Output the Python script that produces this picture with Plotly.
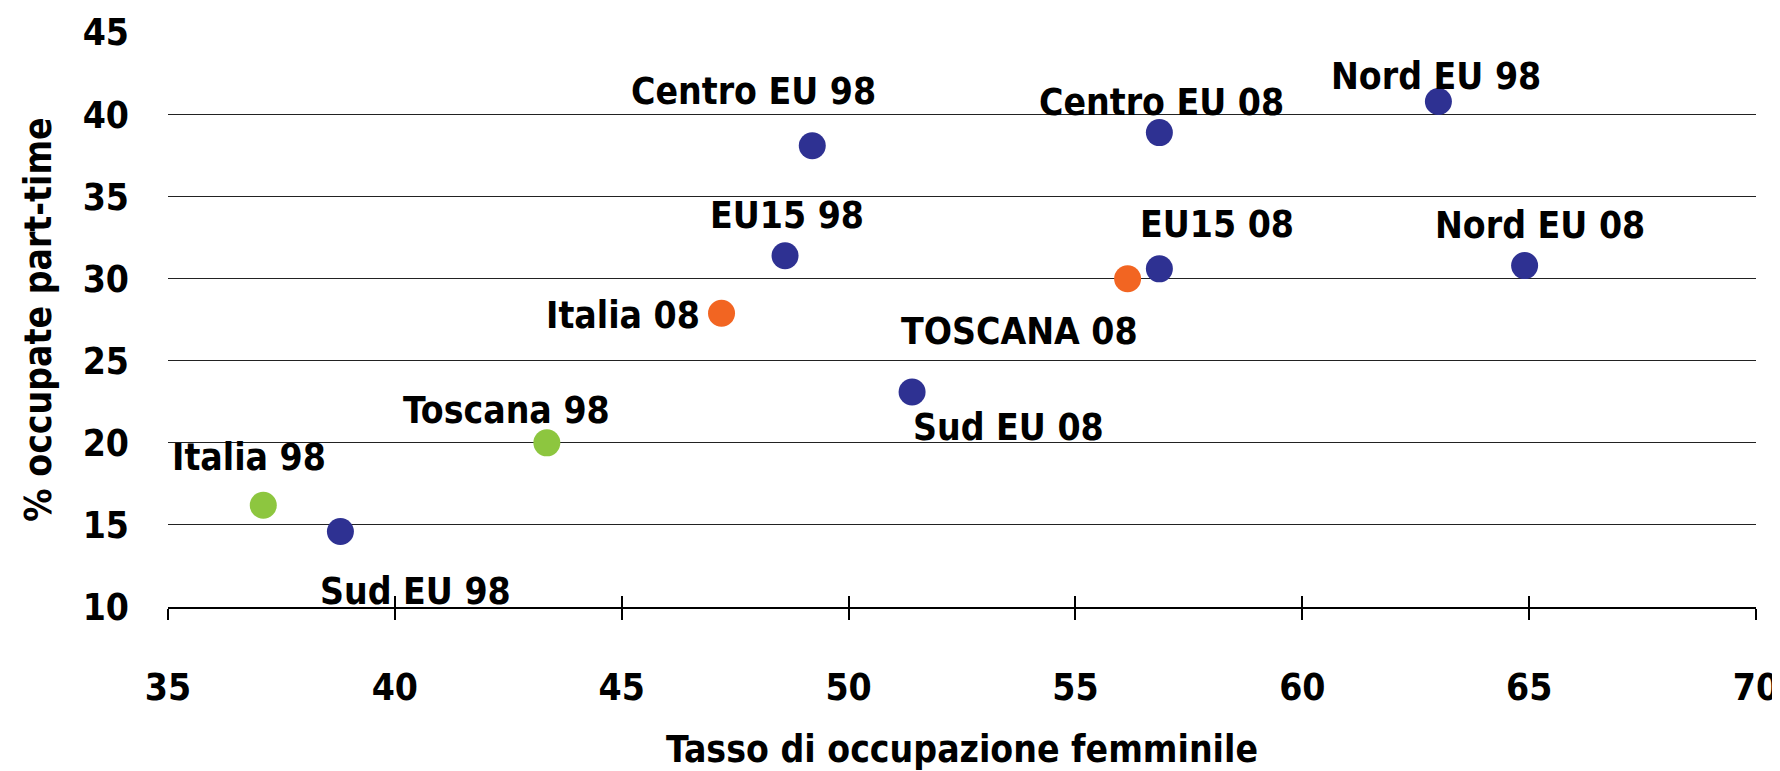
import plotly.graph_objects as go

labels = ["Italia 98", "Sud EU 98", "Toscana 98", "Italia 08", "EU15 98", "Centro EU 98",
          "Sud EU 08", "TOSCANA 08", "EU15 08", "Centro EU 08", "Nord EU 98", "Nord EU 08"]
occ_femminile = [37.1, 38.8, 43.35, 47.2, 48.6, 49.2, 51.4, 56.15, 56.85, 56.85, 63.0, 64.9]
part_time = [16.2, 14.6, 20.0, 27.9, 31.4, 38.1, 23.1, 30.0, 30.6, 38.9, 40.8, 30.8]
groups = ["it98", "eu", "it98", "it08", "eu", "eu", "eu", "it08", "eu", "eu", "eu", "eu"]
x_ticks = [35, 40, 45, 50, 55, 60, 65, 70]
y_ticks = [10, 15, 20, 25, 30, 35, 40, 45]

colors = {"eu": "#2E3192", "it98": "#8DC63F", "it08": "#F26522"}
# label offsets in pixels (dx, dy up)
offsets = {
    "Italia 98": (-14, 48), "Sud EU 98": (75, -60), "Toscana 98": (-40, 32),
    "Italia 08": (-99, -2), "EU15 98": (2, 40), "Centro EU 98": (-59, 54),
    "Sud EU 08": (96, -36), "TOSCANA 08": (-108, -53), "EU15 08": (58, 44),
    "Centro EU 08": (2, 30), "Nord EU 98": (-2, 25), "Nord EU 08": (15, 40),
}

FONT = "Liberation Sans Narrow, Arial Narrow, DejaVu Sans Condensed, sans-serif"
fsize = 37
bold = dict(family=FONT, size=fsize, color="#000", weight="bold")

fig = go.Figure()
for g in ["eu", "it98", "it08"]:
    xs = [x for x, gg in zip(occ_femminile, groups) if gg == g]
    ys = [y for y, gg in zip(part_time, groups) if gg == g]
    fig.add_trace(go.Scatter(x=xs, y=ys, mode="markers",
                             marker=dict(size=27, color=colors[g], line=dict(width=0)),
                             showlegend=False, hoverinfo="skip"))

for lab, x, y in zip(labels, occ_femminile, part_time):
    dx, dy = offsets[lab]
    fig.add_annotation(x=x, y=y, text="<b>%s</b>" % lab, showarrow=False,
                       xshift=dx, yshift=dy, font=bold)

# secondary axis for inside tick halves
fig.add_trace(go.Scatter(x=[35, 70], y=[10, 10], mode="markers", marker=dict(opacity=0),
                         xaxis="x2", showlegend=False, hoverinfo="skip"))

fig.update_layout(
    width=1772, height=763,
    margin=dict(l=160, r=24, t=24, b=164, autoexpand=False),
    paper_bgcolor="white", plot_bgcolor="white",
    font=dict(family=FONT, size=fsize, color="#000"),
    xaxis=dict(range=[35, 70], tickvals=x_ticks,
               ticks="outside", ticklen=11, tickwidth=2, tickcolor="#000",
               showline=True, linewidth=2, linecolor="#000", showgrid=False, zeroline=False,
               tickfont=bold, ticklabelstandoff=36, ticklabeloverflow="allow",
               automargin=False,
               title=dict(text="<b>Tasso di occupazione femminile</b>", standoff=36, font=bold)),
    xaxis2=dict(range=[35, 70], overlaying="x", anchor="y", side="bottom",
                tickvals=x_ticks, ticks="inside", ticklen=11,
                tickwidth=2, tickcolor="#000", showticklabels=False, showgrid=False,
                zeroline=False, showline=False),
    yaxis=dict(range=[10, 45.03], tickvals=y_ticks,
               showgrid=True, gridcolor="#222", gridwidth=1.3, zeroline=False,
               showline=False, ticks="", ticklabelstandoff=38, automargin=False,
               tickfont=bold,
               title=dict(text="<b>% occupate part-time</b>", standoff=19, font=bold)),
)

fig.write_html("out.html")
